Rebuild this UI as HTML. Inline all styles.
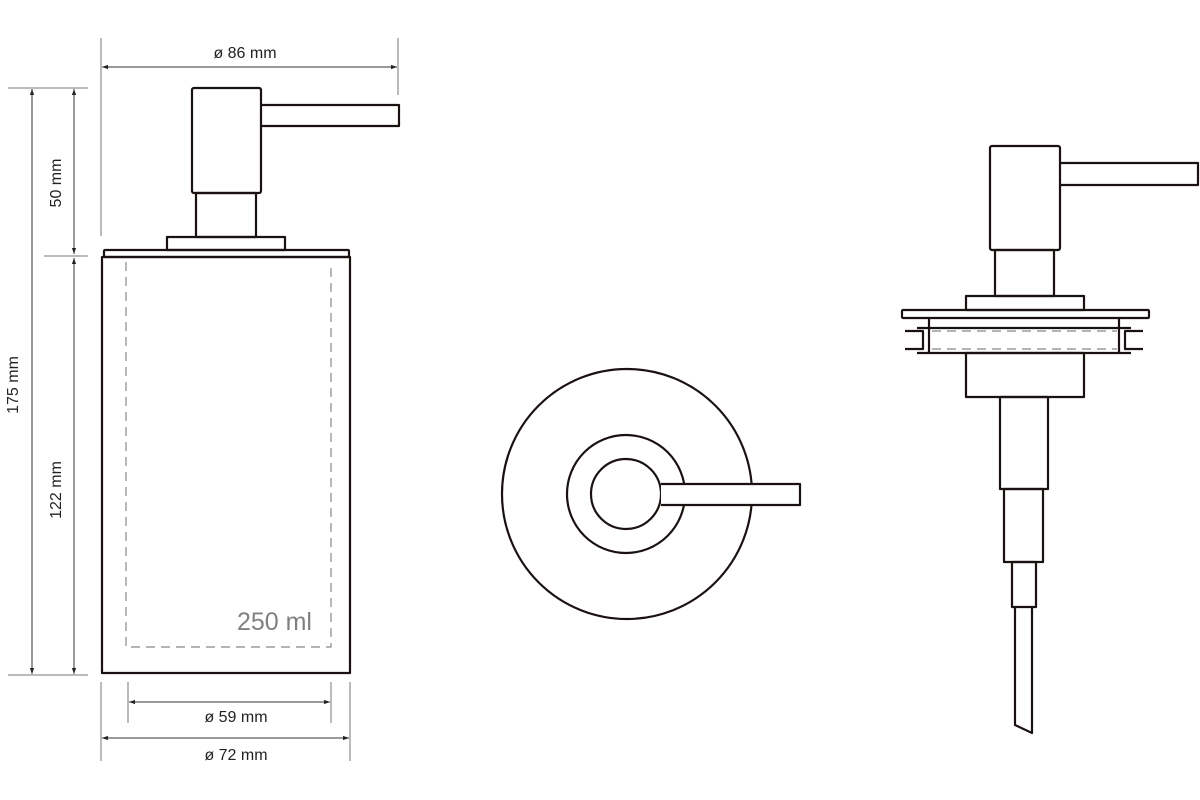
<!DOCTYPE html>
<html><head><style>html,body{margin:0;padding:0;background:#fff}svg{display:block}</style></head>
<body>
<svg width="1200" height="800" viewBox="0 0 1200 800" xmlns="http://www.w3.org/2000/svg">
<defs>
<marker id="a" viewBox="0 0 10 10" refX="10" refY="5" markerWidth="6" markerHeight="6" orient="auto-start-reverse"><path d="M0,1.5 L10,5 L0,8.5z" fill="#222"/></marker>
</defs>
<g stroke="#777" stroke-width="1" fill="none">
<line x1="101" y1="38" x2="101" y2="236"/>
<line x1="398" y1="38" x2="398" y2="95"/>
<line x1="8" y1="88" x2="88" y2="88"/>
<line x1="44" y1="256" x2="88" y2="256"/>
<line x1="8" y1="675" x2="88" y2="675"/>
<line x1="101" y1="682" x2="101" y2="761"/>
<line x1="350" y1="682" x2="350" y2="761"/>
<line x1="128" y1="682" x2="128" y2="723"/>
<line x1="331" y1="682" x2="331" y2="723"/>
</g>
<g stroke="#333" stroke-width="1" fill="none">
<line x1="102" y1="67" x2="397" y2="67" marker-start="url(#a)" marker-end="url(#a)"/>
<line x1="32" y1="89" x2="32" y2="674" marker-start="url(#a)" marker-end="url(#a)"/>
<line x1="74" y1="89" x2="74" y2="254" marker-start="url(#a)" marker-end="url(#a)"/>
<line x1="74" y1="258" x2="74" y2="674" marker-start="url(#a)" marker-end="url(#a)"/>
<line x1="129" y1="702" x2="330" y2="702" marker-start="url(#a)" marker-end="url(#a)"/>
<line x1="102" y1="738" x2="349" y2="738" marker-start="url(#a)" marker-end="url(#a)"/>
</g>
<g font-family="Liberation Sans, sans-serif" font-size="16" fill="#222" text-anchor="middle">
<text x="245" y="58">ø 86 mm</text>
<text x="236" y="722">ø 59 mm</text>
<text x="236" y="760">ø 72 mm</text>
<text transform="translate(61,183) rotate(-90)">50 mm</text>
<text transform="translate(61,490) rotate(-90)">122 mm</text>
<text transform="translate(18,385) rotate(-90)">175 mm</text>
</g>
<text x="312" y="630" font-family="Liberation Sans, sans-serif" font-size="25" fill="#808080" text-anchor="end">250 ml</text>
<g stroke="#1a1210" stroke-width="2.2" fill="none" stroke-linejoin="round">
<!-- left view -->
<rect x="192" y="88" width="69" height="105" rx="2"/>
<path d="M261,105 H399 V126 H261"/>
<rect x="196" y="193" width="60" height="44"/>
<rect x="167" y="237" width="118" height="13"/>
<rect x="104" y="250" width="245" height="7" rx="1"/>
<path d="M102,257 H350 V673 H102 Z"/>
<!-- top view -->
<circle cx="627" cy="494" r="125"/>
<circle cx="626" cy="494" r="59"/>
<circle cx="626" cy="494" r="35"/>
<path d="M661,484 H800 V505 H661" fill="#fff"/>
<!-- right view -->
<rect x="990" y="146" width="70" height="104" rx="2"/>
<path d="M1060,163 H1198 V185 H1060"/>
<rect x="995" y="250" width="59" height="46"/>
<rect x="966" y="296" width="118" height="14"/>
<rect x="902" y="310" width="247" height="8" rx="1"/>
<line x1="929" y1="318" x2="929" y2="353"/>
<line x1="1119" y1="318" x2="1119" y2="353"/>
<line x1="917" y1="328" x2="1131" y2="328"/>
<line x1="917" y1="353" x2="1131" y2="353"/>
<path d="M905,331 H923 V349 H905"/>
<path d="M1143,331 H1125 V349 H1143"/>
<rect x="966" y="353" width="118" height="44"/>
<rect x="1000" y="397" width="48" height="92"/>
<rect x="1004" y="489" width="39" height="73"/>
<rect x="1012" y="562" width="24" height="45"/>
<path d="M1015,607 V725 L1032,733 V607"/>
</g>
<g stroke="#888" stroke-width="1.2" fill="none" stroke-dasharray="9,6">
<path d="M126,262 V647 H331 V262"/>
<line x1="932" y1="331" x2="1117" y2="331"/>
<line x1="932" y1="349" x2="1117" y2="349"/>
</g>
</svg>
</body></html>
